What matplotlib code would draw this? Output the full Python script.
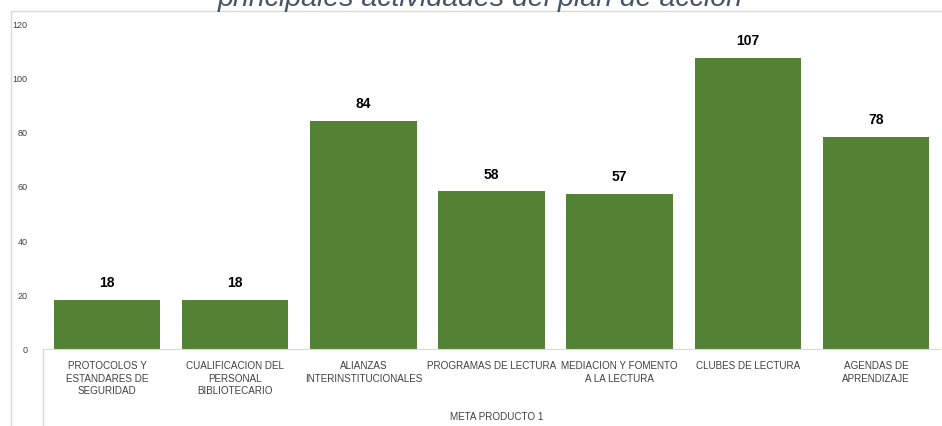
import matplotlib.pyplot as plt
from matplotlib.patches import Rectangle

categorias = ["PROTOCOLOS Y\nESTANDARES DE\nSEGURIDAD",
              "CUALIFICACION DEL\nPERSONAL\nBIBLIOTECARIO",
              "ALIANZAS\nINTERINSTITUCIONALES",
              "PROGRAMAS DE LECTURA",
              "MEDIACION Y FOMENTO\nA LA LECTURA",
              "CLUBES DE LECTURA",
              "AGENDAS DE\nAPRENDIZAJE"]
valores = [18, 18, 84, 58, 57, 107, 78]
grupo = "META PRODUCTO 1"
titulo = "principales actividades del plan de acción"

plt.rcParams['font.family'] = ['Liberation Sans', 'DejaVu Sans']

W, H = 942, 427
fig = plt.figure(figsize=(W / 100, H / 100), dpi=100)

# chart area border
fig.patches.append(Rectangle((11 / W, -0.01), 1.0, 1 - 12 / H + 0.01,
                             transform=fig.transFigure, fill=False,
                             edgecolor='#d9d9d9', linewidth=1))

ax = fig.add_axes([43 / W, 1 - 350 / H, 897 / W, (350 - 24) / H])
x = range(len(valores))
bars = ax.bar(x, valores, width=0.83, color='#548235')
for b, v in zip(bars, valores):
    ax.text(b.get_x() + b.get_width() / 2, v + 4, str(v), ha='center',
            va='bottom', fontsize=10, fontweight='bold', color='black')

ax.set_xlim(-0.5, 6.5)
ax.set_ylim(0, 120)
ax.set_yticks(range(0, 121, 20))
ax.tick_params(axis='y', length=0, labelsize=6.5, pad=11, colors='#404040')
ax.set_xticks(list(x))
ax.set_xticklabels(categorias, fontsize=7.1, color='#404040',
                   linespacing=1.3, va='top')
ax.tick_params(axis='x', length=0, pad=8)
for s in ['top', 'right']:
    ax.spines[s].set_visible(False)
ax.spines['bottom'].set_color('#d9d9d9')
ax.spines['left'].set_visible(False)
# left separator line of the category axis, going below the plot
ax.plot([-0.5, -0.5], [0, -0.5], transform=ax.get_xaxis_transform(),
        color='#d9d9d9', linewidth=1, clip_on=False)

fig.text(497 / W, 1 - 417 / H, grupo, ha='center', va='center',
         fontsize=7.1, color='#404040')
fig.text(480 / W, 1 - 6 / H, titulo, ha='center', va='baseline',
         fontsize=20.5, style='italic', color='#44546a')

fig.savefig('out.png', dpi=100)
